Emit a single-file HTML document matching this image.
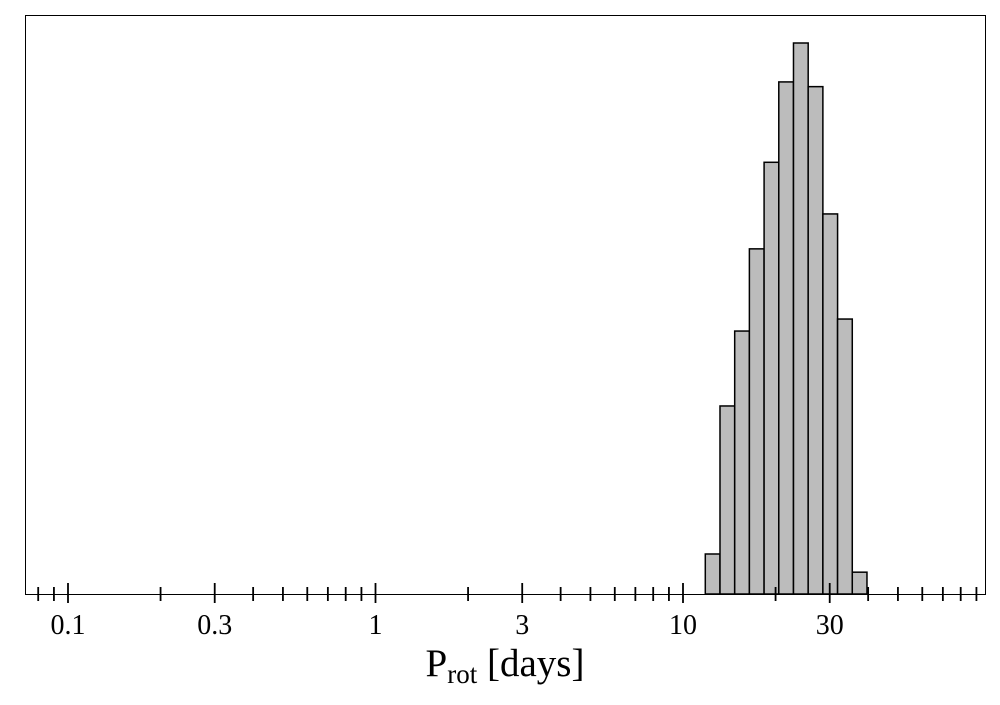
<!DOCTYPE html>
<html><head><meta charset="utf-8"><style>
body{margin:0;background:#fff;}
svg text{font-family:"Liberation Serif",serif;fill:#000;}
</style></head><body>
<svg id="chart" width="1000" height="700" viewBox="0 0 1000 700" xmlns="http://www.w3.org/2000/svg">
<rect x="25.5" y="15.5" width="960" height="579" fill="none" stroke="#000" stroke-width="1"/>
<g id="bars"></g>
<g id="ticks"></g>
<text x="505" y="676" font-size="39" text-anchor="middle">P<tspan font-size="27" dy="7">rot</tspan><tspan dy="-7"> [days]</tspan></text>
</svg>
<script>
const binStartLog = 1.0725;
const binWidthLog = 0.0478;
const counts = [110, 517, 723, 949, 1187, 1408, 1515, 1395, 1045, 756, 60];
const majorTicks = [0.1, 0.3, 1, 3, 10, 30];
const majorLabels = ["0.1", "0.3", "1", "3", "10", "30"];
const minorTicks = [0.08,0.09,0.2,0.4,0.5,0.6,0.7,0.8,0.9,2,4,5,6,7,8,9,20,40,50,60,70,80,90];

const NS="http://www.w3.org/2000/svg";
const xL=25, xR=985, yT=15, yB=594;
const logMin=-1+(25-68)/307.5, logMax=1+(985-683)/307.5;
const x = l => xL+(l-logMin)/(logMax-logMin)*(xR-xL);
const ymax = Math.max(...counts)*579/551;
const y = v => yB-v/ymax*(yB-yT);
const bars=document.getElementById('bars');
counts.forEach((c,i)=>{
  const r=document.createElementNS(NS,'rect');
  const x0=x(binStartLog+i*binWidthLog), x1=x(binStartLog+(i+1)*binWidthLog);
  r.setAttribute('x',x0);r.setAttribute('width',x1-x0);
  r.setAttribute('y',y(c));r.setAttribute('height',yB-y(c));
  r.setAttribute('fill','#bcbcbc');r.setAttribute('stroke','#000');r.setAttribute('stroke-width','1.5');
  
  
  bars.appendChild(r);
});
const tk=document.getElementById('ticks');
function line(px,y1,y2){const l=document.createElementNS(NS,'line');
  l.setAttribute('x1',px);l.setAttribute('x2',px);l.setAttribute('y1',y1);l.setAttribute('y2',y2);
  l.setAttribute('stroke','#000');l.setAttribute('stroke-width','1.8');
  
  
  tk.appendChild(l);}
minorTicks.forEach(v=>line(x(Math.log10(v)),587,601));
majorTicks.forEach((v,i)=>{const px=x(Math.log10(v));line(px,583,603);
  const t=document.createElementNS(NS,'text');
  t.setAttribute('x',px);t.setAttribute('y',634);t.setAttribute('font-size','28');t.setAttribute('text-anchor','middle');
  t.textContent=majorLabels[i];
  
  
  tk.appendChild(t);});
</script>
</body></html>
